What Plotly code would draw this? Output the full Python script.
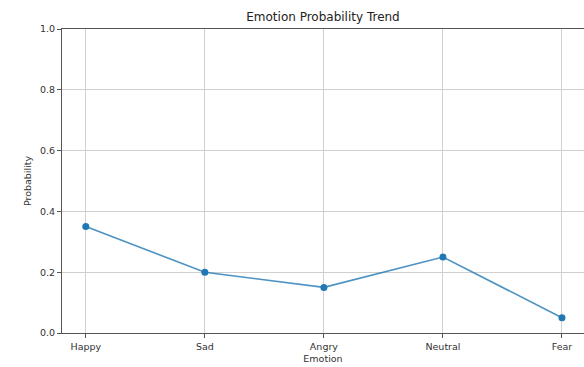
import plotly.graph_objects as go

emotions = ["Happy", "Sad", "Angry", "Neutral", "Fear"]
probabilities = [0.35, 0.20, 0.15, 0.25, 0.05]
y_ticks = [0.0, 0.2, 0.4, 0.6, 0.8, 1.0]
y_tick_labels = ["0.0", "0.2", "0.4", "0.6", "0.8", "1.0"]

fig = go.Figure()
fig.add_trace(go.Scatter(
    x=list(range(len(emotions))), y=probabilities,
    mode="lines+markers",
    line=dict(color="rgba(31,119,180,0.8)", width=1.6),
    marker=dict(color="#1f77b4", size=7),
    showlegend=False,
))

fig.update_layout(
    width=584, height=367,
    margin=dict(l=62, r=0, t=29, b=34),
    paper_bgcolor="white", plot_bgcolor="white",
    font=dict(family="DejaVu Sans", size=9.5, color="#333333"),
    title=dict(text="Emotion Probability Trend", x=0.5, xref="paper", xanchor="center",
               y=1 - 17/367, yanchor="middle", font=dict(size=12, color="#222222")),
)
fig.update_xaxes(
    range=[-0.2, (584 - 86) / 119], tickmode="array",
    tickvals=list(range(len(emotions))), ticktext=emotions,
    showgrid=True, gridcolor="#d0d0d0", gridwidth=1,
    showline=True, linecolor="#555555", linewidth=1.2, mirror=True,
    ticks="outside", ticklen=4, tickcolor="#555555",
    title=dict(text="Emotion", font=dict(size=9.5), standoff=4),
    zeroline=False,
)
fig.update_yaxes(
    range=[0, 1], tickmode="array", tickvals=y_ticks, ticktext=y_tick_labels,
    showgrid=True, gridcolor="#d0d0d0", gridwidth=1,
    showline=True, linecolor="#555555", linewidth=1.2, mirror=False,
    ticks="outside", ticklen=4, tickcolor="#555555",
    title=dict(text="Probability", font=dict(size=9.5), standoff=6),
    zeroline=False,
)
fig.write_html("out.html", config={"displayModeBar": False},
               post_script="document.body.style.margin='0px';document.body.style.overflow='hidden';")
